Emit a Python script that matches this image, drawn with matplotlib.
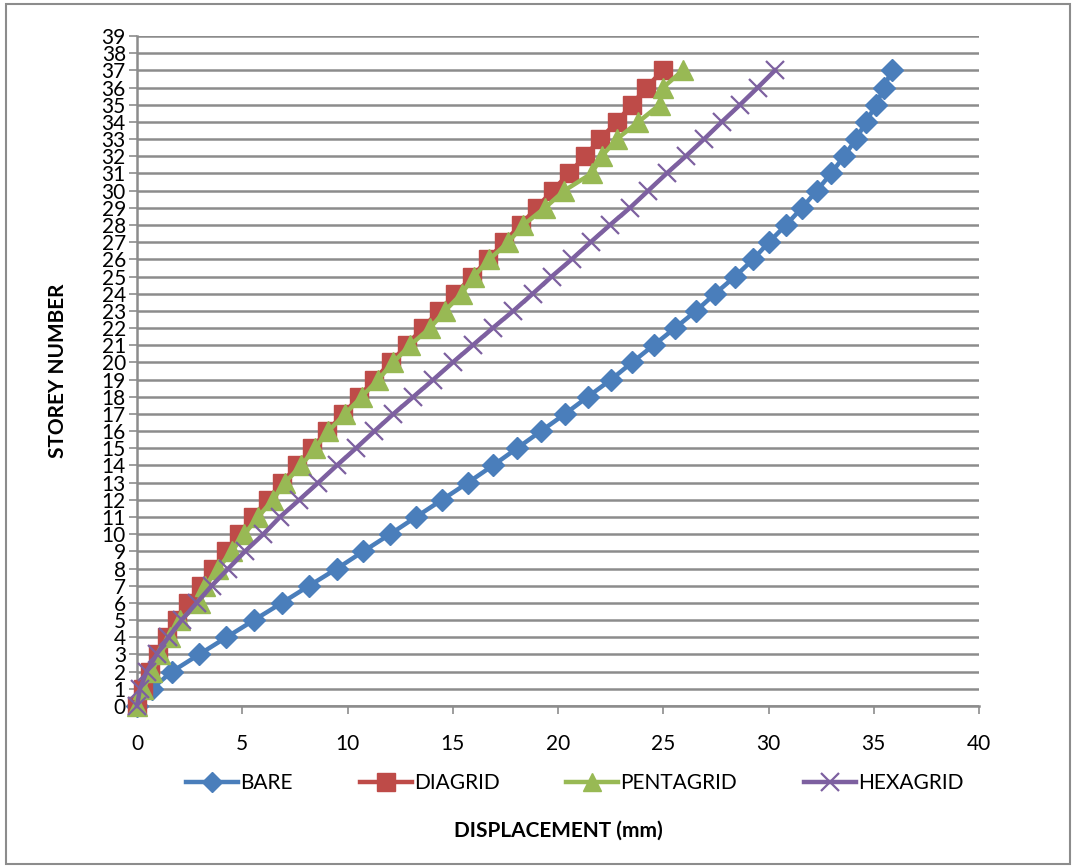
import matplotlib
matplotlib.use("Agg")
import matplotlib.pyplot as plt
from matplotlib.patches import Rectangle

plt.rcParams['font.family'] = ['Lato', 'DejaVu Sans']

storeys = list(range(0, 38))

bare = [0, 0.7, 1.66, 2.95, 4.25, 5.56, 6.88, 8.18, 9.5, 10.75,
        12.02, 13.25, 14.49, 15.72, 16.91, 18.05, 19.19, 20.33, 21.42, 22.52,
        23.52, 24.54, 25.56, 26.56, 27.46, 28.41, 29.27, 30.02, 30.83, 31.59,
        32.3, 32.97, 33.59, 34.16, 34.63, 35.11, 35.49, 35.85]

diagrid = [0, 0.3, 0.62, 1.01, 1.41, 1.91, 2.43, 3.02, 3.62, 4.23,
           4.85, 5.51, 6.2, 6.9, 7.61, 8.29, 9.04, 9.8, 10.55, 11.27,
           12.05, 12.81, 13.57, 14.35, 15.13, 15.92, 16.68, 17.44, 18.22, 18.98,
           19.74, 20.52, 21.28, 22.0, 22.79, 23.5, 24.2, 24.97]

pentagrid = [0, 0.3, 0.7, 1.1, 1.55, 2.05, 3.0, 3.25, 3.85, 4.5,
             5.1, 5.75, 6.45, 7.03, 7.8, 8.45, 9.09, 9.88, 10.67, 11.46,
             12.17, 12.97, 13.92, 14.63, 15.42, 16.0, 16.74, 17.64, 18.35, 19.38,
             20.3, 21.6, 22.08, 22.79, 23.82, 24.83, 24.99, 25.93]

hexagrid = [0, 0.14, 0.46, 0.93, 1.49, 2.12, 2.83, 3.55, 4.34, 5.13,
            6.0, 6.79, 7.71, 8.61, 9.49, 10.4, 11.28, 12.18, 13.13, 14.08,
            15.0, 15.95, 16.9, 17.88, 18.8, 19.7, 20.65, 21.55, 22.47, 23.42,
            24.29, 25.16, 26.07, 26.94, 27.78, 28.65, 29.49, 30.31]

series = [
    ("BARE", bare, "#4A7EBB", "D", 11, 1.0),
    ("DIAGRID", diagrid, "#BE4B48", "s", 13, 1.0),
    ("PENTAGRID", pentagrid, "#98B954", "^", 14, 1.0),
    ("HEXAGRID", hexagrid, "#7D60A0", "x", 13, 1.6),
]

fig = plt.figure(figsize=(10.74, 8.67), dpi=100)
ax = fig.add_axes([137 / 1074, 161 / 867, 842 / 1074, 670 / 867])

for name, vals, col, mk, ms, mew in series:
    ax.plot(vals, storeys, color=col, lw=3.2, marker=mk, markersize=ms,
            markeredgewidth=mew, markeredgecolor=col, markerfacecolor=col,
            label=name, clip_on=False, zorder=3)

ax.set_xlim(0, 40)
ax.set_ylim(0, 39)
ax.set_xticks(range(0, 41, 5))
ax.set_yticks(range(0, 40))
ax.yaxis.grid(True, color="#8c8c8c", lw=1.8)
ax.set_axisbelow(True)

for s in ["top", "right"]:
    ax.spines[s].set_visible(False)
for s in ["left", "bottom"]:
    ax.spines[s].set_color("#8c8c8c")
    ax.spines[s].set_linewidth(1.8)

ax.tick_params(axis="y", length=6, width=1.2, color="#8c8c8c", labelsize=15, pad=2)
ax.tick_params(axis="x", length=6, width=1.2, color="#8c8c8c", labelsize=15, pad=14)

ax.set_xlabel("DISPLACEMENT (mm)", fontsize=15, fontweight="bold", labelpad=48)
ax.set_ylabel("STOREY NUMBER", fontsize=15, fontweight="bold", labelpad=24)

ax.legend(loc="center", bbox_to_anchor=(0.52, -0.115), ncol=4, frameon=False,
          fontsize=15, handlelength=2.5, handletextpad=0.1, columnspacing=3.2,
          markerscale=0.95)

fig.add_artist(Rectangle((6 / 1074, 3 / 867), 1064 / 1074, 860 / 867,
                         transform=fig.transFigure, fill=False,
                         edgecolor="#8c8c8c", lw=1.5))

fig.savefig("out.png", dpi=100)
